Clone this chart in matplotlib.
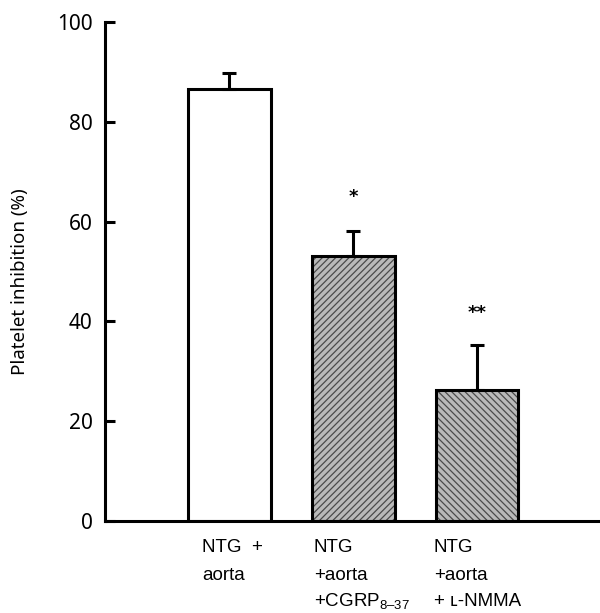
import matplotlib
matplotlib.use("Agg")
import matplotlib.pyplot as plt
import matplotlib.transforms as mtransforms

# ---- data ----
groups = ["NTG + aorta", "NTG + aorta + CGRP8-37", "NTG + aorta + L-NMMA"]
values = [86.6, 53.1, 26.2]
errors = [3.2, 5.0, 9.0]
label_lines = [["NTG  +", "aorta"],
               ["NTG", "+aorta", "$\\mathregular{+CGRP_{8\u201337}}$"],
               ["NTG", "+aorta", "+ \u029f-NMMA"]]
stars = ["", "*", "**"]
star_vals = [None, 65.0, 41.7]
yticks = [0, 20, 40, 60, 80, 100]

W, H = 600, 613
plt.rcParams["mathtext.fontset"] = "custom"
plt.rcParams["mathtext.rm"] = "Liberation Sans"
fig = plt.figure(figsize=(W / 100, H / 100), dpi=100)
ax = fig.add_axes([105 / W, (H - 521) / H, 1 - 105 / W, (521 - 22) / H])

x = list(range(len(values)))
bw = 0.67
fills = ["white", "#b9b9b9", "#b9b9b9"]
hatches = [None, "/////", "\\\\\\\\\\"]
plt.rcParams["hatch.linewidth"] = 0.9
for i in x:
    if hatches[i]:
        ax.bar(i, values[i], width=bw, color=fills[i], edgecolor="#4a4a4a",
               hatch=hatches[i], linewidth=0, zorder=2)
    else:
        ax.bar(i, values[i], width=bw, color=fills[i], linewidth=0, zorder=2)
    ax.bar(i, values[i], width=bw, fill=False, edgecolor="black",
           linewidth=2.2, zorder=3)

ax.errorbar(x, values, yerr=[[0] * len(values), errors], fmt="none",
            ecolor="black", elinewidth=2.2, capsize=4.7, capthick=2.2, zorder=4)

for i in x:
    if stars[i]:
        ax.text(i, star_vals[i], stars[i], ha="center", va="center",
                fontsize=13, fontweight="bold", family="DejaVu Sans")

ax.set_xlim(-1.006, 2.994)
ax.set_ylim(0, 100)
ax.set_yticks(yticks)
ax.set_yticklabels([str(t) for t in yticks], family="Noto Sans", fontsize=15)
ax.tick_params(axis="y", direction="in", length=7.5, width=2.2, pad=9)
ax.set_xticks([])
for s in ["top", "right"]:
    ax.spines[s].set_visible(False)
ax.spines["left"].set_linewidth(2.2)
ax.spines["bottom"].set_linewidth(2.2)
ax.spines["left"].set_bounds(0, 100)
ax.spines["left"].set_capstyle("projecting")

fig.text(20 / W, 1 - 282 / H, "Platelet inhibition (%)", rotation=90,
         ha="center", va="center", family="Noto Sans", fontsize=13.5)

trans = mtransforms.blended_transform_factory(ax.transData, fig.transFigure)
offsets = [-0.222, -0.320, -0.350]
baselines = [552, 580, 606]
for i in x:
    for j, line in enumerate(label_lines[i]):
        ax.text(i + offsets[i], 1 - baselines[j] / H, line, transform=trans,
                ha="left", va="baseline", fontsize=13.5,
                family=["Liberation Sans", "DejaVu Sans"], clip_on=False)

fig.savefig("out.png", dpi=100)
